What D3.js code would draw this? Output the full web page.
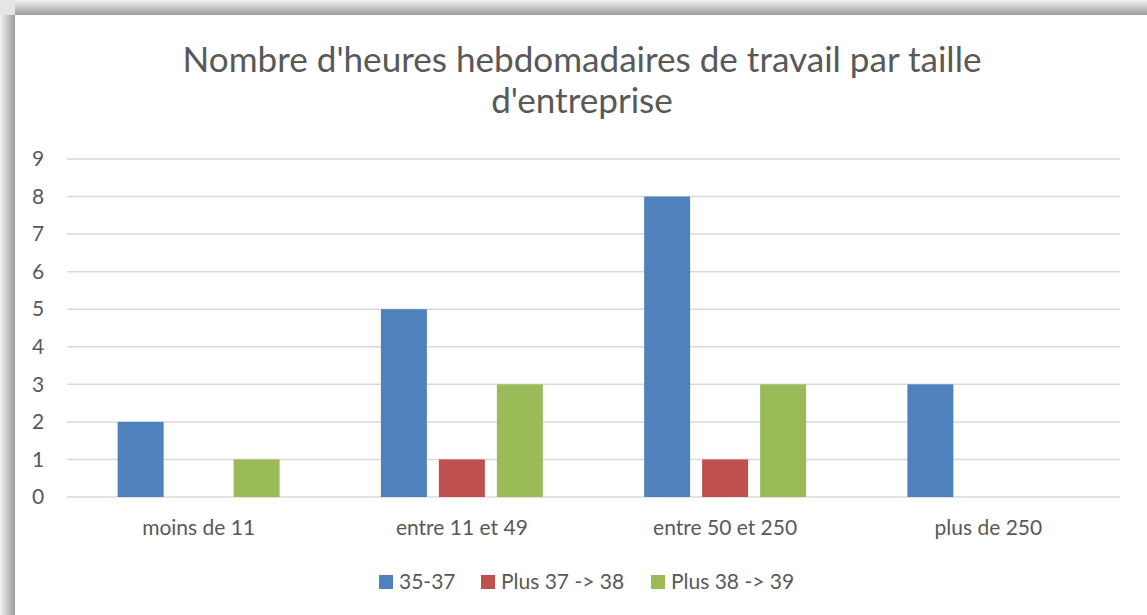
<!DOCTYPE html>
<html>
<head>
<meta charset="utf-8">
<script src="https://cdn.jsdelivr.net/npm/d3@7"></script>
<style>
  body { margin: 0; background: #fff; }
  svg { display: block; }
</style>
</head>
<body>
<svg id="chart" width="1147" height="615"></svg>
<script>
// data
const categories = ["moins de 11", "entre 11 et 49", "entre 50 et 250", "plus de 250"];
const seriesNames = ["35-37", "Plus 37 -> 38", "Plus 38 -> 39"];
const serie1 = [2, 5, 8, 3];
const serie2 = [0, 1, 1, 0];
const serie3 = [1, 3, 3, 0];
const yTicks = [0, 1, 2, 3, 4, 5, 6, 7, 8, 9];
const colors = ["#4f81bd", "#c0504d", "#9bbb59"];

const svg = d3.select("#chart");
const W = 1147, H = 615;
const font = "Lato, 'Open Sans', sans-serif";

// shadowed frame (top and left edges)
const defs = svg.append("defs");
const gTop = defs.append("linearGradient").attr("id", "gTop").attr("x1", 0).attr("y1", 0).attr("x2", 0).attr("y2", 1);
gTop.append("stop").attr("offset", "0%").attr("stop-color", "#f4f4f4");
gTop.append("stop").attr("offset", "100%").attr("stop-color", "#9a9a9a");
const gLeft = defs.append("linearGradient").attr("id", "gLeft").attr("x1", 0).attr("y1", 0).attr("x2", 1).attr("y2", 0);
gLeft.append("stop").attr("offset", "0%").attr("stop-color", "#f4f4f4");
gLeft.append("stop").attr("offset", "100%").attr("stop-color", "#9a9a9a");

svg.append("rect").attr("x", 0).attr("y", 0).attr("width", W).attr("height", H).attr("fill", "#fff");
svg.append("rect").attr("x", 0).attr("y", 0).attr("width", W).attr("height", 15).attr("fill", "url(#gTop)");
svg.append("rect").attr("x", 0).attr("y", 0).attr("width", 15).attr("height", H).attr("fill", "url(#gLeft)");
svg.append("rect").attr("x", 0).attr("y", 0).attr("width", 15).attr("height", 15).attr("fill", "#e6e6e6");

// title
const title = svg.append("text")
  .attr("text-anchor", "middle")
  .attr("fill", "#595959")
  .style("font-family", font)
  .style("font-size", "35.1px")
  .style("font-weight", 400);
title.append("tspan").attr("x", 582).attr("y", 72).text("Nombre d'heures hebdomadaires de travail par taille");
title.append("tspan").attr("x", 582).attr("y", 113).text("d'entreprise");

// scales
const margin = { left: 67, right: 27, top: 159, bottom: 118 };
const x0 = d3.scaleBand().domain(categories).range([margin.left, W - margin.right]).padding(0);
const x1 = d3.scaleBand().domain(seriesNames).range([0, x0.bandwidth()])
  .paddingInner(0.207).paddingOuter(0.873);
const y = d3.scaleLinear().domain([0, 9]).range([H - margin.bottom, margin.top]);

// gridlines
svg.append("g")
  .selectAll("line")
  .data(yTicks)
  .join("line")
  .attr("x1", margin.left)
  .attr("x2", W - margin.right)
  .attr("y1", (d) => y(d))
  .attr("y2", (d) => y(d))
  .attr("stroke", "#d9d9d9")
  .attr("stroke-width", 1.5);

// y axis labels
const yAxis = svg.append("g")
  .attr("transform", `translate(${margin.left - 29},0)`)
  .call(d3.axisLeft(y).tickValues(yTicks).tickSize(0).tickPadding(0));
yAxis.select(".domain").remove();
yAxis.selectAll("text")
  .attr("text-anchor", "middle")
  .attr("fill", "#595959")
  .style("font-family", font)
  .style("font-size", "21px");

// bars
const series = [serie1, serie2, serie3];
const rows = categories.map((c, i) => ({
  cat: c,
  vals: seriesNames.map((s, j) => ({ name: s, value: series[j][i], color: colors[j] }))
}));

svg.append("g")
  .selectAll("g")
  .data(rows)
  .join("g")
  .attr("transform", (d) => `translate(${x0(d.cat)},0)`)
  .selectAll("rect")
  .data((d) => d.vals.filter((v) => v.value > 0))
  .join("rect")
  .attr("x", (d) => x1(d.name))
  .attr("width", x1.bandwidth())
  .attr("y", (d) => y(d.value))
  .attr("height", (d) => y(0) - y(d.value))
  .attr("fill", (d) => d.color);

// x axis labels
const xAxis = svg.append("g")
  .attr("transform", `translate(0,${y(0) + 38})`)
  .call(d3.axisBottom(x0).tickSize(0).tickPadding(0));
xAxis.select(".domain").remove();
xAxis.selectAll("text")
  .attr("dy", 0)
  .attr("fill", "#595959")
  .style("font-family", font)
  .style("font-size", "21px");

// legend
const legendX = [379, 481, 651];
const legend = svg.append("g")
  .selectAll("g")
  .data(seriesNames)
  .join("g")
  .attr("transform", (d, i) => `translate(${legendX[i]},575)`);
legend.append("rect").attr("width", 14).attr("height", 14).attr("fill", (d, i) => colors[i]);
legend.append("text")
  .attr("x", 20)
  .attr("y", 13.5)
  .attr("fill", "#595959")
  .style("font-family", font)
  .style("font-size", "21px")
  .text((d) => d);
</script>
</body>
</html>
